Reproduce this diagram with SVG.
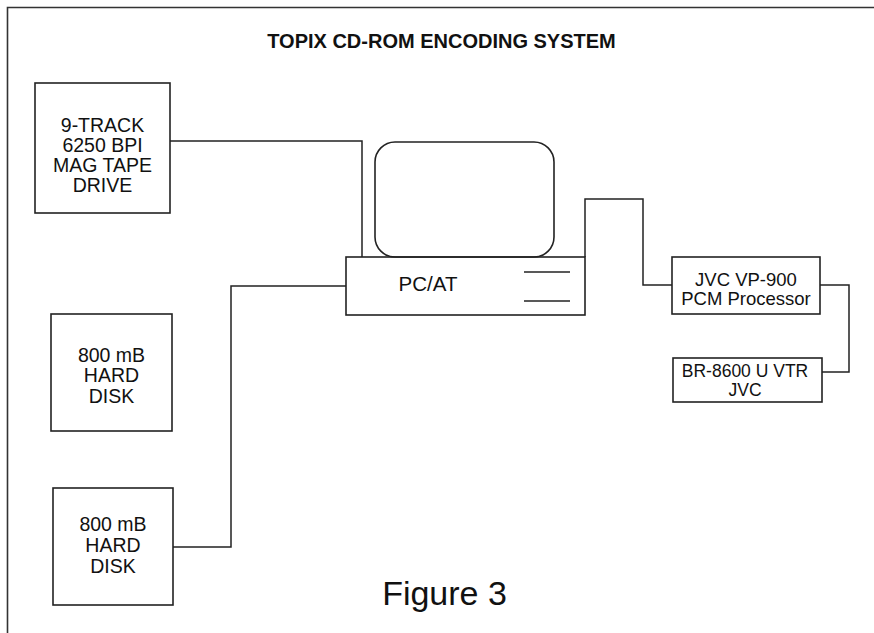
<svg xmlns="http://www.w3.org/2000/svg" width="874" height="633" viewBox="0 0 874 633">
<style>
.box{fill:none;stroke:#222;stroke-width:1.6}
.wire{fill:none;stroke:#222;stroke-width:1.5}
.t{font-family:"Liberation Sans",Arial,sans-serif;fill:#111;text-anchor:middle}
.b{font-size:19.5px}
.s{font-size:18.5px}
</style>
<rect width="874" height="633" fill="#fff"/>
<g id="frame">
<path d="M7.5 633 V7.5 H874" fill="none" stroke="#333" stroke-width="1.6"/>
</g>
<g id="title">
<text class="t" x="441.5" y="48" font-size="20" font-weight="bold">TOPIX CD-ROM ENCODING SYSTEM</text>
</g>
<g id="connectors">
<path class="wire" d="M170 141 H362 V257"/>
<path class="wire" d="M585 257 V199 H643 V285 H672"/>
<path class="wire" d="M820 285 H849 V372 H822"/>
<path class="wire" d="M173 547 H231 V286 H346"/>
</g>
<g id="magtape">
<rect class="box" x="35" y="83" width="135" height="130"/>
<text class="t b" x="102.5" y="132">9-TRACK</text>
<text class="t b" x="102.5" y="152">6250 BPI</text>
<text class="t b" x="102.5" y="172">MAG TAPE</text>
<text class="t b" x="102.5" y="192">DRIVE</text>
</g>
<g id="pcat">
<rect class="box" x="375" y="142" width="179" height="115" rx="20"/>
<rect class="box" x="346" y="257" width="239" height="58"/>
<line class="wire" x1="524" y1="272" x2="570" y2="272"/>
<line class="wire" x1="524" y1="301" x2="570" y2="301"/>
<text class="t" x="428" y="291" font-size="20.5">PC/AT</text>
</g>
<g id="pcm">
<rect class="box" x="672" y="257" width="148" height="57"/>
<text class="t s" x="746" y="286">JVC VP-900</text>
<text class="t s" x="746" y="305">PCM Processor</text>
</g>
<g id="vtr">
<rect class="box" x="673" y="358" width="149" height="44"/>
<text class="t" x="745" y="377" font-size="17.5">BR-8600 U VTR</text>
<text class="t" x="745" y="396" font-size="17.5">JVC</text>
</g>
<g id="disk1">
<rect class="box" x="51" y="314" width="121" height="117"/>
<text class="t b" x="111.5" y="362">800 mB</text>
<text class="t b" x="111.5" y="382">HARD</text>
<text class="t b" x="111.5" y="403">DISK</text>
</g>
<g id="disk2">
<rect class="box" x="53" y="488" width="120" height="117"/>
<text class="t b" x="113" y="531">800 mB</text>
<text class="t b" x="113" y="552">HARD</text>
<text class="t b" x="113" y="573">DISK</text>
</g>
<g id="caption">
<text class="t" x="444.5" y="605" font-size="34">Figure 3</text>
</g>
</svg>
